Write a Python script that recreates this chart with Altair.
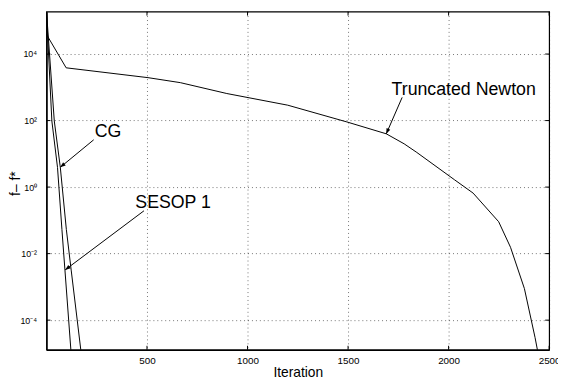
import altair as alt
import pandas as pd

# ---------------- data ----------------
cg_iter = [0, 39, 69, 99, 123, 175]
cg_val = [2.0e5, 97, 3.9, 0.053, 0.0032, 8e-6]

sesop_iter = [0, 27, 55, 77, 92, 124]
sesop_val = [2.0e5, 97, 3.9, 0.053, 0.0032, 8e-6]

tn_iter = [0, 98, 505, 666, 897, 1200, 1494, 1690, 1779, 1842, 2030, 2122,
           2249, 2308, 2377, 2430, 2450]
tn_val = [3.9e4, 3850, 1950, 1380, 650, 290, 91, 40, 20, 11, 1.65, 0.66,
          0.091, 0.0155, 8.9e-4, 3.0e-5, 7e-6]

x_ticks = [500, 1000, 1500, 2000, 2500]
y_ticks = [1e-4, 1e-2, 1, 1e2, 1e4]
y_tick_exp = [-4, -2, 0, 2, 4]
y_tick_labels = ["10\u207b\u2074", "10\u207b\u00b2", "10\u2070", "10\u00b2", "10\u2074"]

ann_text = ["CG", "SESOP 1", "Truncated Newton"]
ann_text_x = [306, 630, 2075]
ann_text_y = [44, 0.324, 828]
ann_tail_x = [235, 485, 1769]
ann_tail_y = [26.4, 0.194, 497]
ann_tip_x = [68.6, 93, 1690]
ann_tip_y = [3.92, 0.00324, 39.8]
ann_angle = [140.5, 143.1, 113.4]  # arrowhead direction (style)

x_domain = [0, 2500]
y_domain = [1.29e-5, 1.88e5]

# ---------------- tables ----------------
rows = []
for name, xs, ys in [("CG", cg_iter, cg_val), ("SESOP 1", sesop_iter, sesop_val),
                     ("Truncated Newton", tn_iter, tn_val)]:
    for a, b in zip(xs, ys):
        rows.append({"series": name, "it": a, "f": b})
lines_df = pd.DataFrame(rows)

shaft_rows = []
for i in range(len(ann_text)):
    shaft_rows.append({"a": i, "x": ann_tail_x[i], "y": ann_tail_y[i], "k": 0})
    shaft_rows.append({"a": i, "x": ann_tip_x[i], "y": ann_tip_y[i], "k": 1})
shaft_df = pd.DataFrame(shaft_rows)
head_df = pd.DataFrame({"x": ann_tip_x, "y": ann_tip_y, "ang": ann_angle})
text_df = pd.DataFrame({"t": ann_text, "x": ann_text_x, "y": ann_text_y})
xt_df = pd.DataFrame({"v": x_ticks})
yt_df = pd.DataFrame({"v": y_ticks})

W, H = 510, 343
FONT = "Liberation Sans"

label_expr = ""
for e, lab in zip(y_tick_exp, y_tick_labels):
    label_expr += f"round(log(datum.value)/LN10) == {e} ? '{lab}' : "
label_expr += "''"

xscale = alt.Scale(domain=x_domain, nice=False, zero=False)
yscale = alt.Scale(type="log", domain=y_domain, nice=False)

x_axis = alt.Axis(values=x_ticks, title="Iteration", grid=True, gridDash=[1, 3],
                  gridColor="#000000", gridOpacity=0.55, ticks=False,
                  labelFontSize=10, labelPadding=6, titleFontSize=14,
                  titleFontWeight="normal", titlePadding=0,
                  domainColor="black", domainWidth=1.5,
                  labelColor="black", titleColor="black",
                  labelFlush=False, format="d")
y_axis = alt.Axis(values=y_ticks, title="f\u2013 f*", grid=True, gridDash=[1, 3],
                  gridColor="#000000", gridOpacity=0.55, ticks=False,
                  labelFontSize=9, labelPadding=10, titleFontSize=14,
                  titleFontWeight="normal", labelExpr=label_expr,
                  titleX=-31, titleY=174, titleAngle=270,
                  titleAlign="center", titleBaseline="middle",
                  domainColor="black", domainWidth=1.5,
                  labelColor="black", titleColor="black")

base_lines = alt.Chart(lines_df).mark_line(color="black", strokeWidth=1, clip=True).encode(
    x=alt.X("it:Q", scale=xscale, axis=x_axis),
    y=alt.Y("f:Q", scale=yscale, axis=y_axis),
    detail="series:N",
)

tick_left = alt.Chart(yt_df).mark_rule(color="black").encode(
    y=alt.Y("v:Q", scale=yscale), x=alt.value(0), x2=alt.value(4))
tick_right = alt.Chart(yt_df).mark_rule(color="black").encode(
    y=alt.Y("v:Q", scale=yscale), x=alt.value(W - 4), x2=alt.value(W))
tick_bottom = alt.Chart(xt_df).mark_rule(color="black").encode(
    x=alt.X("v:Q", scale=xscale), y=alt.value(H), y2=alt.value(H - 4))
tick_top = alt.Chart(xt_df).mark_rule(color="black").encode(
    x=alt.X("v:Q", scale=xscale), y=alt.value(0), y2=alt.value(4))

shafts = alt.Chart(shaft_df).mark_line(color="black", strokeWidth=1).encode(
    x=alt.X("x:Q", scale=xscale), y=alt.Y("y:Q", scale=yscale),
    detail="a:N", order="k:Q")
heads = alt.Chart(head_df).mark_point(
    shape="M0,0L-2,-0.75L-2,0.75Z", filled=True, color="black", size=30, opacity=1
).encode(
    x=alt.X("x:Q", scale=xscale), y=alt.Y("y:Q", scale=yscale),
    angle=alt.Angle("ang:Q", scale=None))
texts = alt.Chart(text_df).mark_text(fontSize=18, font=FONT, color="black",
                                     align="center", baseline="middle").encode(
    x=alt.X("x:Q", scale=xscale), y=alt.Y("y:Q", scale=yscale), text="t:N")

chart = alt.layer(
    base_lines, tick_left, tick_right, tick_bottom, tick_top, shafts, heads, texts
).properties(
    width=W, height=H,
    padding={"left": 39, "top": 1, "right": 9, "bottom": 28},
    autosize=alt.AutoSizeParams(type="none"),
).configure(font=FONT).configure_view(
    stroke="black", strokeWidth=1.2
).configure_axis(labelFont=FONT, titleFont=FONT)

chart.save("out.html", embed_options={"renderer": "svg", "actions": False})
